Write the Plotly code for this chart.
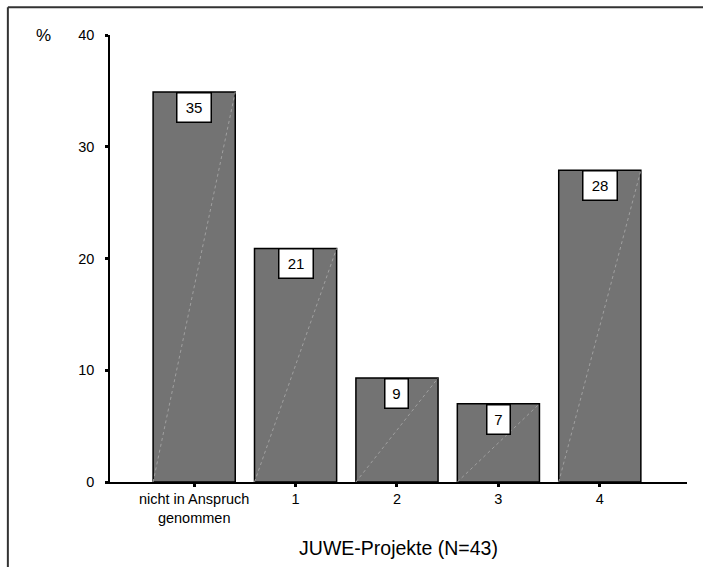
import plotly.graph_objects as go

categories = ["nicht in Anspruch<br>genommen", "1", "2", "3", "4"]
values = [34.9, 20.9, 9.3, 7.0, 27.9]
labels = ["35", "21", "9", "7", "28"]
y_ticks = [0, 10, 20, 30, 40]

FONT = "Liberation Sans, Arial, sans-serif"
xs = list(range(len(categories)))
bw = 0.81

fig = go.Figure()
fig.add_trace(go.Bar(
    x=xs, y=values, width=bw,
    marker=dict(color="#737373", line=dict(color="black", width=1.5)),
    hoverinfo="skip",
))

shapes = []
annotations = []
for x, v, lab in zip(xs, values, labels):
    shapes.append(dict(type="line", xref="x", yref="y",
                       x0=x - bw / 2, y0=0, x1=x + bw / 2, y1=v,
                       line=dict(color="#a0a0a0", width=1, dash="dot"), layer="above"))
    annotations.append(dict(x=x, y=v, xref="x", yref="y", text=lab, showarrow=False,
                            yanchor="top", xanchor="center",
                            font=dict(family=FONT, size=15, color="black"),
                            bgcolor="white", bordercolor="black", borderwidth=1.5,
                            borderpad=1, width=len(lab) * 11 + 9, height=26))

# outer frame (top and left)
shapes.append(dict(type="line", xref="paper", yref="paper", x0=-0.177, y0=1.062, x1=1.05, y1=1.062,
                   line=dict(color="#333333", width=2)))
shapes.append(dict(type="line", xref="paper", yref="paper", x0=-0.177, y0=1.062, x1=-0.177, y1=-0.2,
                   line=dict(color="#333333", width=2)))

annotations.append(dict(x=-0.115, y=1.0, xref="paper", yref="paper", text="%", showarrow=False,
                        xanchor="center", yanchor="middle",
                        font=dict(family=FONT, size=17, color="black")))

fig.update_layout(
    width=703, height=567,
    margin=dict(l=110, r=16, t=35, b=85),
    paper_bgcolor="white", plot_bgcolor="white",
    showlegend=False,
    shapes=shapes, annotations=annotations,
    font=dict(family=FONT, color="black"),
    xaxis=dict(range=[-0.83, 4.86], tickvals=xs, ticktext=categories,
               showline=True, linecolor="black", linewidth=1.5,
               ticks="outside", ticklen=3, tickwidth=3, tickcolor="black",
               showgrid=False, zeroline=False,
               tickfont=dict(family=FONT, size=14.5, color="black"),
               title=dict(text="JUWE-Projekte (N=43)", standoff=16,
                          font=dict(family=FONT, size=19.5, color="black"))),
    yaxis=dict(range=[0, 40], tickvals=y_ticks,
               showline=True, linecolor="black", linewidth=1.5,
               ticks="outside", ticklen=3, tickwidth=3, tickcolor="black",
               showgrid=False, zeroline=False, ticklabelstandoff=8,
               tickfont=dict(family=FONT, size=14.5, color="black")),
)

fig.write_html("out.html")
